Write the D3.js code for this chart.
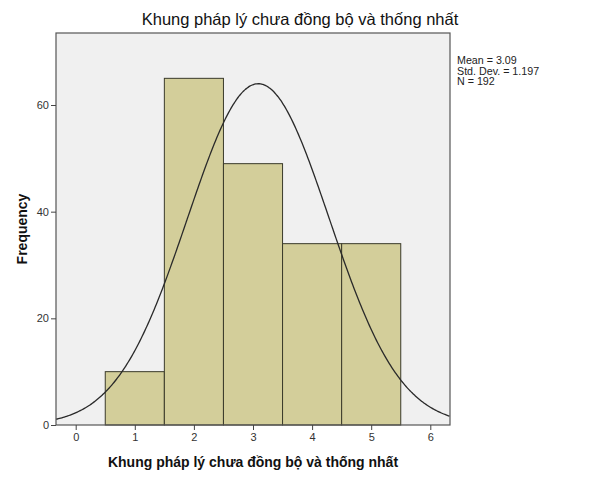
<!DOCTYPE html>
<html>
<head>
<meta charset="utf-8">
<script src="https://cdn.jsdelivr.net/npm/d3@7"></script>
<style>
  body { margin: 0; background: #fff; }
  text { font-family: "Liberation Sans", Arial, sans-serif; }
</style>
</head>
<body>
<div id="chart"></div>
<script>
const binCenters = [1, 2, 3, 4, 5];
const binCounts = [10, 65, 49, 34, 34];
const xTicks = [0, 1, 2, 3, 4, 5, 6];
const yTicks = [0, 20, 40, 60];
const statLines = ["Mean = 3.09", "Std. Dev. = 1.197", "N = 192"];
const mean = 3.09, sd = 1.197, n = 192;
const title = "Khung pháp lý chưa đồng bộ và thống nhất";

var width = 601, height = 481;
var margin = ({top: 33, right: 151, bottom: 56, left: 56});

var svg = d3.select("#chart").append("svg")
    .attr("width", width)
    .attr("height", height);

var x = d3.scaleLinear()
    .domain([-1 / 3, 19 / 3])
    .range([margin.left, width - margin.right]);

var y = d3.scaleLinear()
    .domain([0, 73.5])
    .range([height - margin.bottom, margin.top]);

// plot background
svg.append("rect")
    .attr("x", margin.left).attr("y", margin.top)
    .attr("width", width - margin.left - margin.right)
    .attr("height", height - margin.top - margin.bottom)
    .attr("fill", "#f0f0f0");

var bars = binCenters.map((c, i) => ({c: c, v: binCounts[i]}));

svg.append("g").selectAll("rect")
    .data(bars)
    .join("rect")
    .attr("x", d => x(d.c - 0.5))
    .attr("width", d => x(d.c + 0.5) - x(d.c - 0.5))
    .attr("y", d => y(d.v))
    .attr("height", d => y(0) - y(d.v))
    .attr("fill", "#d3ce9a")
    .attr("stroke", "#3a3a2a")
    .attr("stroke-width", 1);

// fitted normal curve from the stated mean / sd / N
var pts = d3.range(x.domain()[0], x.domain()[1] + 0.001, 0.02);
var line = d3.line()
    .x(d => x(d))
    .y(d => y(n / (sd * Math.sqrt(2 * Math.PI)) * Math.exp(-0.5 * Math.pow((d - mean) / sd, 2))))
    .curve(d3.curveBasis);

svg.append("path")
    .datum(pts)
    .attr("fill", "none")
    .attr("stroke", "#2a2a2a")
    .attr("stroke-width", 1.3)
    .attr("d", line);

// frame
svg.append("rect")
    .attr("x", margin.left).attr("y", margin.top)
    .attr("width", width - margin.left - margin.right)
    .attr("height", height - margin.top - margin.bottom)
    .attr("fill", "none")
    .attr("stroke", "#555")
    .attr("stroke-width", 1.2);

var xAxis = g => g
    .attr("transform", `translate(0,${height - margin.bottom})`)
    .call(d3.axisBottom(x).tickValues(xTicks).tickFormat(d3.format("d"))
        .tickSize(5).tickSizeOuter(0).tickPadding(3))
    .call(g => g.select(".domain").remove());

var yAxis = g => g
    .attr("transform", `translate(${margin.left},0)`)
    .call(d3.axisLeft(y).tickValues(yTicks).tickFormat(d3.format("d"))
        .tickSize(5).tickSizeOuter(0).tickPadding(2))
    .call(g => g.select(".domain").remove());

svg.append("g").call(xAxis);
svg.append("g").call(yAxis);

svg.selectAll(".tick line").attr("stroke", "#444");
svg.selectAll(".tick text")
    .attr("fill", "#333")
    .attr("font-size", 11)
    .attr("font-family", "Liberation Sans, Arial, sans-serif");

svg.append("text")
    .attr("x", 300).attr("y", 25)
    .attr("text-anchor", "middle")
    .attr("font-size", 16.5)
    .attr("fill", "#111")
    .text(title);

svg.append("text")
    .attr("x", (margin.left + width - margin.right) / 2)
    .attr("y", 467)
    .attr("text-anchor", "middle")
    .attr("font-size", 14)
    .attr("font-weight", "bold")
    .attr("fill", "#111")
    .text(title);

svg.append("text")
    .attr("transform", `translate(27,${(margin.top + height - margin.bottom) / 2}) rotate(-90)`)
    .attr("text-anchor", "middle")
    .attr("font-size", 14)
    .attr("font-weight", "bold")
    .attr("fill", "#111")
    .text("Frequency");

svg.append("g").selectAll("text")
    .data(statLines)
    .join("text")
    .attr("x", 457)
    .attr("y", (d, i) => 64 + i * 10.5)
    .attr("font-size", 10.7)
    .attr("fill", "#222")
    .text(d => d);
</script>
</body>
</html>
